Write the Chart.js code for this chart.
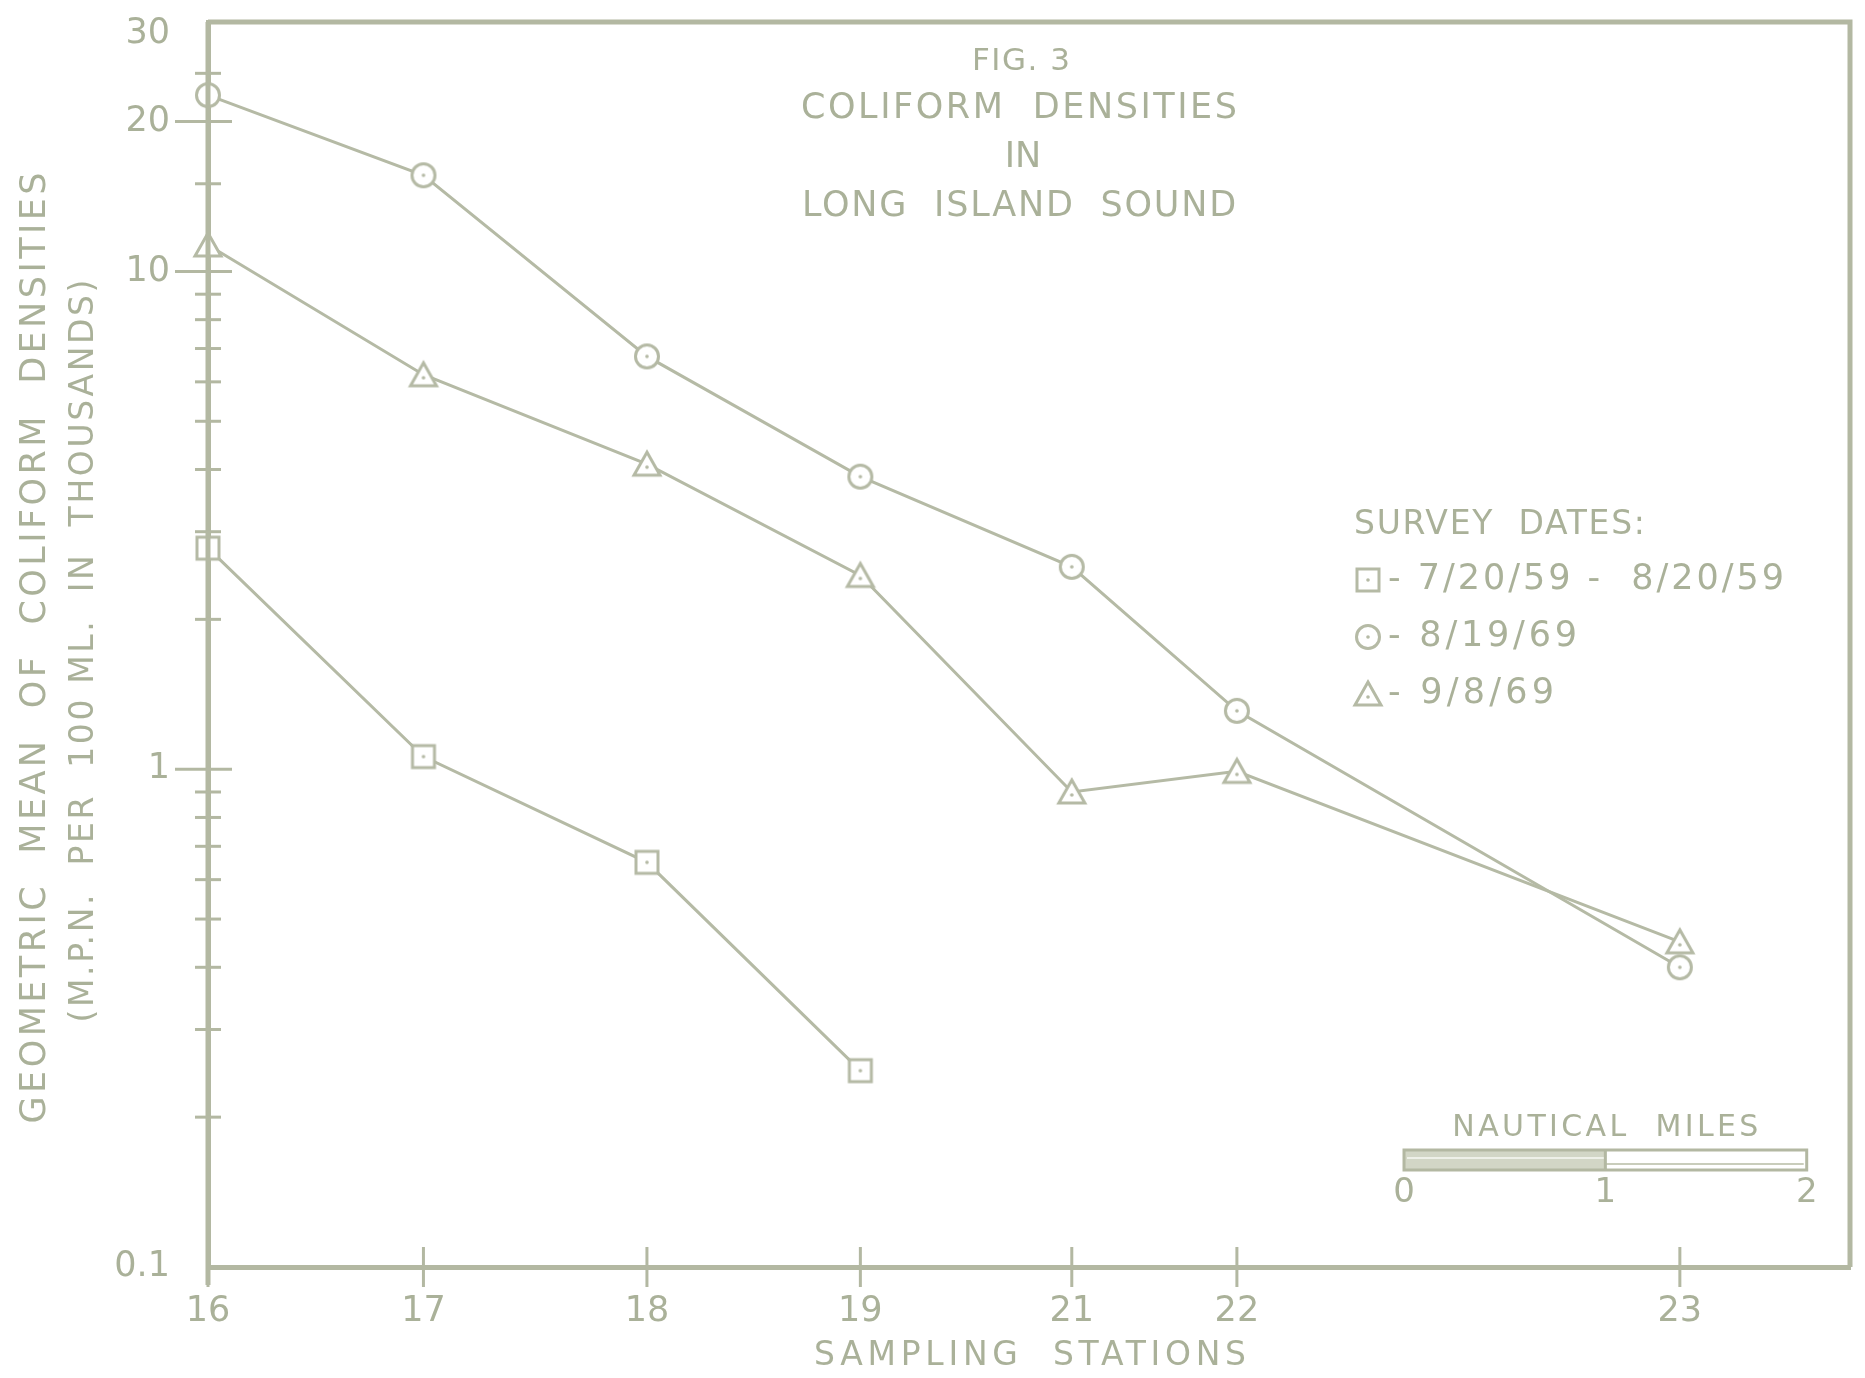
<!DOCTYPE html>
<html>
<head>
<meta charset="utf-8">
<title>Coliform Densities in Long Island Sound</title>
<script src="https://cdn.jsdelivr.net/npm/chart.js@4.4.1/dist/chart.umd.min.js"></script>
<style>
  html, body { margin: 0; padding: 0; background: #ffffff; }
  canvas { display: block; }
</style>
</head>
<body>
<canvas id="fig3" width="1865" height="1378" style="width:1865px;height:1378px"></canvas>
<script>
// Sampling stations and their distance along the sound (nautical miles from station 16)
const stations = ['16', '17', '18', '19', '21', '22', '23'];
const stationMiles = [0, 1.07, 2.18, 3.24, 4.29, 5.11, 7.31];

// Geometric mean coliform densities, MPN per 100 ml, in thousands
const survey1959 = [2.78, 1.06, 0.65, 0.248];                 // stations 16-19 only
const survey0819 = [22.6, 15.6, 6.75, 3.87, 2.55, 1.31, 0.40];
const survey0908 = [11.3, 6.2, 4.1, 2.45, 0.90, 0.99, 0.45];

// Log axis tick marks and the ones that carry a label
const yTickValues = [0.1, 0.2, 0.3, 0.4, 0.5, 0.6, 0.7, 0.8, 0.9,
                     1, 2, 3, 4, 5, 6, 7, 8, 9, 10, 15, 20, 25, 30];
const yTickLabels = [0.1, 1, 10, 20, 30];
const yMajorTicks = [1, 10, 20];

// Scale bar: 2 nautical miles drawn on the distance axis
const scaleBarStart = 5.94;
const scaleBarLabels = ['0', '1', '2'];

const titleLines = ['FIG. 3', 'COLIFORM  DENSITIES', 'IN', 'LONG  ISLAND  SOUND'];
const yTitleLines = ['GEOMETRIC  MEAN  OF  COLIFORM  DENSITIES', '(M.P.N.  PER  100 ML.  IN  THOUSANDS)'];
const xTitle = 'SAMPLING  STATIONS';
const legendTitle = 'SURVEY  DATES:';
const legendLabels = ['- 7/20/59 -  8/20/59', '- 8/19/69', '- 9/8/69'];
const scaleBarTitle = 'NAUTICAL  MILES';

const INK = '#aab199';
const LINE = '#b5baa5';
const AXIS = '#b3b8a2';
const FONT = '"DejaVu Sans", "Liberation Sans", sans-serif';

// Hollow markers with a centre dot, drawn once on small canvases
function makeMarker(shape) {
  const c = document.createElement('canvas');
  c.width = 34; c.height = 34;
  const g = c.getContext('2d');
  g.strokeStyle = LINE; g.fillStyle = '#ffffff'; g.lineWidth = 3;
  g.beginPath();
  if (shape === 'circle') {
    g.arc(17, 17, 11.5, 0, Math.PI * 2);
  } else if (shape === 'square') {
    g.rect(6, 6, 22, 22);
  } else {
    g.moveTo(17, 5); g.lineTo(30, 28); g.lineTo(4, 28); g.closePath();
  }
  g.fill(); g.stroke();
  g.fillStyle = LINE;
  g.beginPath();
  g.arc(17, shape === 'triangle' ? 20 : 17, 1.8, 0, Math.PI * 2);
  g.fill();
  return c;
}
const markers = { square: makeMarker('square'), circle: makeMarker('circle'), triangle: makeMarker('triangle') };

function toPoints(values) {
  return values.map((v, i) => ({ x: stationMiles[i], y: v }));
}

// Text stretched to a given width with letter spacing (natural width when none is given)
function spacedText(ctx, text, x, y, width, font, align) {
  ctx.font = font;
  const hasLs = 'letterSpacing' in ctx;
  if (hasLs) ctx.letterSpacing = '0px';
  const n = [...text].length;
  const natural = ctx.measureText(text).width;
  let ls = (width && n > 1) ? (width - natural) / (n - 1) : 0;
  if (hasLs) ctx.letterSpacing = ls.toFixed(2) + 'px'; else ls = 0;
  const total = natural + ls * (n - 1);
  const startX = align === 'left' ? x : x - total / 2;
  ctx.textAlign = 'left';
  ctx.textBaseline = 'middle';
  ctx.fillText(text, startX, y);
  if (hasLs) ctx.letterSpacing = '0px';
}

const framePlugin = {
  id: 'frame',
  afterDatasetsDraw(chart) {
    const { ctx, chartArea: a, scales: { x, y } } = chart;
    ctx.save();
    ctx.strokeStyle = AXIS;
    ctx.lineWidth = 5;
    ctx.beginPath();
    ctx.moveTo(a.left, a.top); ctx.lineTo(a.right, a.top); ctx.lineTo(a.right, a.bottom);
    ctx.stroke();
    ctx.beginPath();
    ctx.moveTo(a.left, a.top); ctx.lineTo(a.left, a.bottom + 18);
    ctx.stroke();
    ctx.lineWidth = 3;
    yTickValues.forEach(v => {
      if (v === 0.1 || v === 30) return;
      const py = y.getPixelForValue(v);
      const major = yMajorTicks.includes(v);
      ctx.beginPath();
      ctx.moveTo(a.left - (major ? 33 : 13), py);
      ctx.lineTo(a.left + (major ? 24 : 13), py);
      ctx.stroke();
    });
    stationMiles.forEach(m => {
      const px = x.getPixelForValue(m);
      ctx.beginPath();
      ctx.moveTo(px, a.bottom - 20); ctx.lineTo(px, a.bottom + 20);
      ctx.stroke();
    });
    ctx.restore();
  }
};

const notesPlugin = {
  id: 'notes',
  afterDraw(chart) {
    const { ctx, chartArea: a, scales: { x } } = chart;
    ctx.save();
    ctx.fillStyle = INK;

    // Figure title inside the frame
    spacedText(ctx, titleLines[0], 1021, 62, 98, '31px ' + FONT, 'center');
    spacedText(ctx, titleLines[1], 1019, 109, 436, '35px ' + FONT, 'center');
    spacedText(ctx, titleLines[2], 1023, 158, 0, '35px ' + FONT, 'center');
    spacedText(ctx, titleLines[3], 1019, 207, 434, '35px ' + FONT, 'center');

    // Vertical axis title, two lines
    ctx.save();
    ctx.translate(36, 648); ctx.rotate(-Math.PI / 2);
    spacedText(ctx, yTitleLines[0], 0, 0, 951, '35px ' + FONT, 'center');
    ctx.restore();
    ctx.save();
    ctx.translate(84, 651); ctx.rotate(-Math.PI / 2);
    spacedText(ctx, yTitleLines[1], 0, 0, 743, '33px ' + FONT, 'center');
    ctx.restore();

    // Horizontal axis title
    spacedText(ctx, xTitle, 1030, 1356, 432, '33px ' + FONT, 'center');

    // Survey date key
    spacedText(ctx, legendTitle, 1354, 525, 291, '33px ' + FONT, 'left');
    const keyShapes = ['square', 'circle', 'triangle'];
    const keyRows = [580, 637, 694];
    const keyWidths = [396, 189, 166];
    keyShapes.forEach((s, i) => {
      ctx.drawImage(markers[s], 1368 - 17, keyRows[i] - 17);
      spacedText(ctx, legendLabels[i], 1388, keyRows[i], keyWidths[i], '35px ' + FONT, 'left');
    });

    // Nautical-mile scale bar
    const p0 = x.getPixelForValue(scaleBarStart);
    const p1 = x.getPixelForValue(scaleBarStart + 1);
    const p2 = x.getPixelForValue(scaleBarStart + 2);
    const top = a.bottom - 117, h = 20;
    ctx.fillStyle = '#d2d6c6';
    ctx.fillRect(p0, top, p1 - p0, h);
    ctx.strokeStyle = '#eef0e8'; ctx.lineWidth = 2;
    ctx.beginPath(); ctx.moveTo(p0 + 3, top + 8); ctx.lineTo(p1, top + 8); ctx.stroke();
    ctx.strokeStyle = '#c9cdbb'; ctx.lineWidth = 2;
    ctx.beginPath(); ctx.moveTo(p1, top + 14); ctx.lineTo(p2 - 3, top + 14); ctx.stroke();
    ctx.strokeStyle = AXIS; ctx.lineWidth = 3;
    ctx.strokeRect(p0, top, p2 - p0, h);
    ctx.beginPath(); ctx.moveTo(p1, top); ctx.lineTo(p1, top + h); ctx.stroke();
    ctx.fillStyle = INK;
    spacedText(ctx, scaleBarTitle, (p0 + p2) / 2, top - 22, 306, '30px ' + FONT, 'center');
    ctx.font = '34px ' + FONT;
    ctx.textAlign = 'center'; ctx.textBaseline = 'middle';
    [p0, p1, p2].forEach((p, i) => ctx.fillText(scaleBarLabels[i], p, top + h + 23));
    ctx.restore();
  }
};

const lineStyle = {
  borderColor: LINE,
  borderWidth: 3,
  tension: 0,
  fill: false,
  clip: false,
  pointRadius: 12,
  pointHoverRadius: 12
};

new Chart(document.getElementById('fig3'), {
  type: 'line',
  data: {
    datasets: [
      Object.assign({ label: '7/20/59 - 8/20/59', data: toPoints(survey1959), pointStyle: markers.square }, lineStyle),
      Object.assign({ label: '8/19/69', data: toPoints(survey0819), pointStyle: markers.circle }, lineStyle),
      Object.assign({ label: '9/8/69', data: toPoints(survey0908), pointStyle: markers.triangle }, lineStyle)
    ]
  },
  options: {
    responsive: false,
    animation: false,
    events: [],
    layout: { padding: { top: 22, right: 11, left: 0, bottom: 0 } },
    plugins: { legend: { display: false }, tooltip: { enabled: false }, title: { display: false } },
    scales: {
      x: {
        type: 'linear',
        min: 0,
        max: 8.155,
        afterBuildTicks: s => { s.ticks = stationMiles.map(v => ({ value: v })); },
        afterFit: s => { s.height = 111; s.paddingLeft = 0; s.paddingRight = 0; },
        grid: { display: false, drawTicks: false },
        border: { display: true, color: AXIS, width: 5 },
        ticks: {
          autoSkip: false, maxRotation: 0, padding: 24,
          color: INK, font: { family: FONT, size: 35 },
          callback: (v, i) => stations[i]
        }
      },
      y: {
        type: 'logarithmic',
        min: 0.1,
        max: 31.7,
        afterBuildTicks: s => { s.ticks = yTickValues.map(v => ({ value: v })); },
        afterFit: s => { s.width = 208; s.paddingTop = 0; s.paddingBottom = 0; },
        grid: { display: false, drawTicks: false },
        border: { display: true, color: AXIS, width: 5 },
        ticks: {
          autoSkip: false, padding: 38,
          color: INK, font: { family: FONT, size: 35 },
          callback: v => (yTickLabels.includes(v) ? String(v) : '')
        }
      }
    }
  },
  plugins: [framePlugin, notesPlugin]
});
</script>
</body>
</html>
